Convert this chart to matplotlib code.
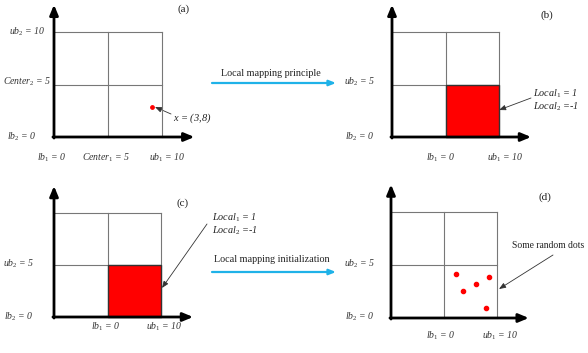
import matplotlib
matplotlib.use("Agg")
import matplotlib.pyplot as plt
from matplotlib.patches import Rectangle

plt.rcParams['font.family'] = ['Liberation Serif', 'DejaVu Serif']
plt.rcParams['mathtext.fontset'] = 'custom'
plt.rcParams['mathtext.it'] = 'Liberation Serif:italic'
plt.rcParams['mathtext.rm'] = 'Liberation Serif'

# ---- data ----
grid_bounds = [0, 5, 10]
point_a_x = [9.1]
point_a_y = [2.9]
highlight_cell = (5, 0, 5, 5)          # x, y, width, height in grid units
dots_d_x = [6.1, 6.8, 8.0, 9.25, 8.95]
dots_d_y = [4.15, 2.55, 3.2, 3.85, 0.95]

panel_names = ['(a)', '(b)', '(c)', '(d)']
labels_a_x = [r'$lb_1$ = 0', r'$Center_1$ = 5', r'$ub_1$ = 10']
labels_a_y = [r'$lb_2$ = 0', r'$Center_2$ = 5', r'$ub_2$ = 10']
labels_x = [r'$lb_1$ = 0', r'$ub_1$ = 10']
labels_y = [r'$lb_2$ = 0', r'$ub_2$ = 5']
local_text = [r'$Local_1$ = 1', r'$Local_2$ =-1']
point_text = r'$x$ = (3,8)'
arrow_texts = ['Local mapping principle', 'Local mapping initialization']
dots_text = 'Some random dots'

W, H = 588, 353
fig = plt.figure(figsize=(W / 100, H / 100), dpi=100)

ov = fig.add_axes([0, 0, 1, 1])
ov.set_xlim(0, W)
ov.set_ylim(H, 0)
ov.axis('off')


def panel(x0, x1, ytop, yorig):
    ax = fig.add_axes([x0 / W, 1 - yorig / H, (x1 - x0) / W, (yorig - ytop) / H])
    ax.set_xlim(0, 10)
    ax.set_ylim(0, 10)
    ax.axis('off')
    for v in grid_bounds[1:]:
        ax.plot([v, v], [0, 10], color='#777777', lw=0.8, clip_on=False, zorder=2)
        ax.plot([0, 10], [v, v], color='#777777', lw=0.8, clip_on=False, zorder=2)
    ap = dict(arrowstyle='-|>,head_length=0.6,head_width=0.25', lw=2.0, color='black',
              shrinkA=0, shrinkB=0, mutation_scale=10)
    ax.annotate('', xy=(13, 0), xytext=(-0.1, 0), arrowprops=ap, annotation_clip=False, zorder=5)
    ax.annotate('', xy=(0, 12.6), xytext=(0, -0.1), arrowprops=ap, annotation_clip=False, zorder=5)
    return ax


def red_cell(ax):
    x, y, w, h = highlight_cell
    ax.add_patch(Rectangle((x, y), w, h, facecolor='#FF0000', edgecolor='#333333',
                           lw=1.0, zorder=3, clip_on=False))


axa = panel(54, 162, 32, 137)
axb = panel(392, 499, 32, 137)
axc = panel(54, 161, 213, 317)
axd = panel(391, 497, 212, 318)

axa.scatter(point_a_x, point_a_y, s=6, color='#FF0000', zorder=4, clip_on=False)
red_cell(axb)
red_cell(axc)
axd.scatter(dots_d_x, dots_d_y, s=9, color='#FF0000', zorder=4, clip_on=False)

fs = 7
tk = dict(fontsize=fs, style='italic', color='#333333', ha='center', va='center')

# panel (a)
for lab, cx in zip(labels_a_x, [52, 106, 167]):
    ov.text(cx, 158, lab, **tk)
for lab, cy, cx in zip(labels_a_y, [137, 82, 32], [22, 27, 27]):
    ov.text(cx, cy, lab, **tk)
ov.text(173, 118, point_text, fontsize=7.5, style='italic', color='#222222', ha='left', va='center')

# panel (b)
for lab, cx in zip(labels_x, [441, 505]):
    ov.text(cx, 158, lab, **tk)
for lab, cy in zip(labels_y, [137, 82]):
    ov.text(360, cy, lab, **tk)
for lab, cy in zip(local_text, [94, 107]):
    ov.text(533, cy, lab, fontsize=7.3, style='italic', color='#222222', ha='left', va='center')

# panel (c)
for lab, cx in zip(labels_x, [106, 164]):
    ov.text(cx, 327, lab, **tk)
for lab, cy in zip(labels_y, [317, 264]):
    ov.text(19, cy, lab, **tk)
for lab, cy in zip(local_text, [218, 231]):
    ov.text(212, cy, lab, fontsize=7.3, style='italic', color='#222222', ha='left', va='center')

# panel (d)
for lab, cx in zip(labels_x, [441, 500]):
    ov.text(cx, 336, lab, **tk)
for lab, cy in zip(labels_y, [317, 264]):
    ov.text(360, cy, lab, **tk)
ov.text(512, 246, dots_text, fontsize=6.9, color='#222222', ha='left', va='center')

# panel names
for name, (cx, cy) in zip(panel_names, [(184, 9), (547, 15), (183, 203), (545, 197)]):
    ov.text(cx, cy, name, fontsize=8, color='#222222', ha='center', va='center')

# pointer arrows
thin = dict(arrowstyle='-|>,head_length=0.5,head_width=0.2', lw=0.6, color='#333333',
            shrinkA=0, shrinkB=0, mutation_scale=8)
ov.annotate('', xy=(155, 107), xytext=(171, 114), arrowprops=thin)
ov.annotate('', xy=(499, 110), xytext=(531, 98), arrowprops=thin)
ov.annotate('', xy=(162, 288), xytext=(207, 224), arrowprops=thin)
ov.annotate('', xy=(499, 289), xytext=(553, 255), arrowprops=thin)

# blue arrows between panels
blue = dict(arrowstyle='-|>,head_length=0.5,head_width=0.2', lw=1.6, color='#1FB2E8',
            shrinkA=0, shrinkB=0, mutation_scale=8)
ov.annotate('', xy=(336, 83), xytext=(212, 83), arrowprops=blue)
ov.annotate('', xy=(336, 272), xytext=(212, 272), arrowprops=blue)
ov.text(271, 73, arrow_texts[0], fontsize=7.3, color='#222222', ha='center', va='center')
ov.text(272, 260, arrow_texts[1], fontsize=7.3, color='#222222', ha='center', va='center')

fig.savefig('out.png', dpi=100)
